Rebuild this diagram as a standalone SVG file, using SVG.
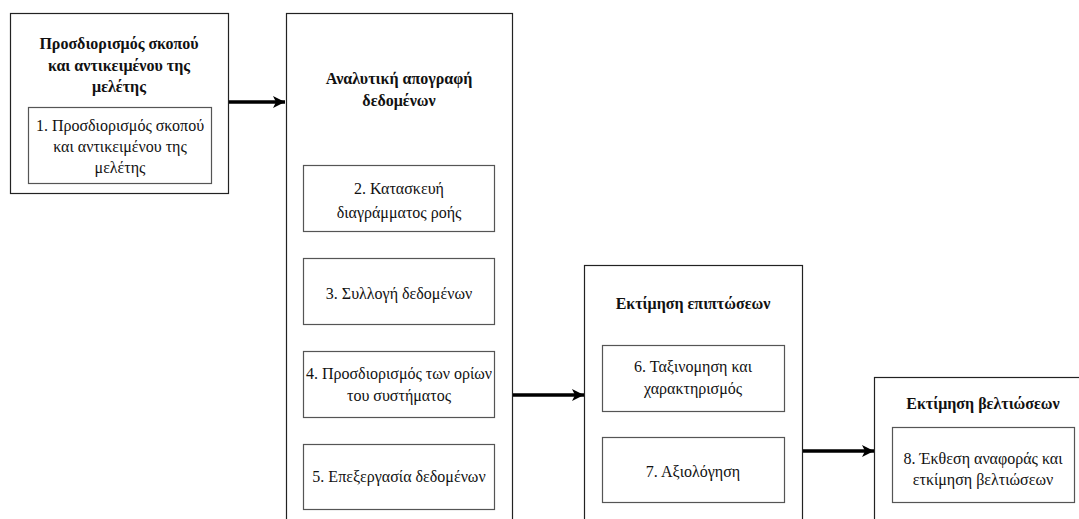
<svg xmlns="http://www.w3.org/2000/svg" width="1079" height="519" viewBox="0 0 1079 519">
<style>
.outer{fill:#fff;stroke:#222;stroke-width:1.2}
.inner{fill:#fff;stroke:#555;stroke-width:1.2}
text{font-family:'Liberation Serif','Times New Roman','DejaVu Serif',serif;font-size:16px;fill:#111;text-anchor:middle;dominant-baseline:central}
.t{font-weight:bold;font-size:16px}
.conn{stroke:#000;stroke-width:3.5;fill:none}
</style>
<defs>
<marker id="ah" markerUnits="userSpaceOnUse" markerWidth="14" markerHeight="14" refX="12" refY="6" orient="auto">
<path d="M0,0 L12,6 L0,12 L3,6 Z" fill="#000"/>
</marker>
</defs>
<rect width="1079" height="519" fill="#fff"/>
<g id="stage1">
<rect class="outer" x="10.5" y="13.5" width="218" height="180"/>
<text class="t" x="119" y="43" font-family="Liberation Serif">Προσδιορισμός σκοπού</text>
<text class="t" x="119" y="65" font-family="Liberation Serif">και αντικειμένου της</text>
<text class="t" x="119" y="86" font-family="Liberation Serif">μελέτης</text>
</g>
<g id="step1">
<rect class="inner" x="28.5" y="107.5" width="183" height="76"/>
<text x="120" y="125">1. Προσδιορισμός σκοπού</text>
<text x="120" y="146">και αντικειμένου της</text>
<text x="120" y="167">μελέτης</text>
</g>
<g id="stage2">
<rect class="outer" x="286.5" y="13.5" width="226" height="520"/>
<text class="t" x="399" y="78">Αναλυτική απογραφή</text>
<text class="t" x="399" y="100">δεδομένων</text>
</g>
<g id="step2">
<rect class="inner" x="303.5" y="165.5" width="191" height="66"/>
<text x="399" y="188">2. Κατασκευή</text>
<text x="399" y="212">διαγράμματος ροής</text>
</g>
<g id="step3">
<rect class="inner" x="303.5" y="258.5" width="191" height="66"/>
<text x="399" y="293">3. Συλλογή δεδομένων</text>
</g>
<g id="step4">
<rect class="inner" x="303.5" y="351.5" width="191" height="66"/>
<text x="399" y="373">4. Προσδιορισμός των ορίων</text>
<text x="399" y="395">του συστήματος</text>
</g>
<g id="step5">
<rect class="inner" x="303.5" y="444.5" width="191" height="65"/>
<text x="399" y="476">5. Επεξεργασία δεδομένων</text>
</g>
<g id="stage3">
<rect class="outer" x="584.5" y="265.5" width="218" height="270"/>
<text class="t" x="693" y="303">Εκτίμηση επιπτώσεων</text>
</g>
<g id="step6">
<rect class="inner" x="602.5" y="345.5" width="182" height="66"/>
<text x="693" y="366">6. Ταξινομηση και</text>
<text x="693" y="388">χαρακτηρισμός</text>
</g>
<g id="step7">
<rect class="inner" x="602.5" y="437.5" width="182" height="65"/>
<text x="693" y="471">7. Αξιολόγηση</text>
</g>
<g id="stage4">
<rect class="outer" x="874.5" y="377.5" width="220" height="160"/>
<text class="t" x="983" y="403">Εκτίμηση βελτιώσεων</text>
</g>
<g id="step8">
<rect class="inner" x="892.5" y="427.5" width="182" height="75"/>
<text x="983" y="458">8. Έκθεση αναφοράς και</text>
<text x="983" y="479">ετκίμηση βελτιώσεων</text>
</g>
<g id="connectors">
<line class="conn" x1="229" y1="102" x2="285" y2="102" marker-end="url(#ah)"/>
<line class="conn" x1="513" y1="395" x2="584" y2="395" marker-end="url(#ah)"/>
<line class="conn" x1="803" y1="451" x2="874" y2="451" marker-end="url(#ah)"/>
</g>
</svg>
